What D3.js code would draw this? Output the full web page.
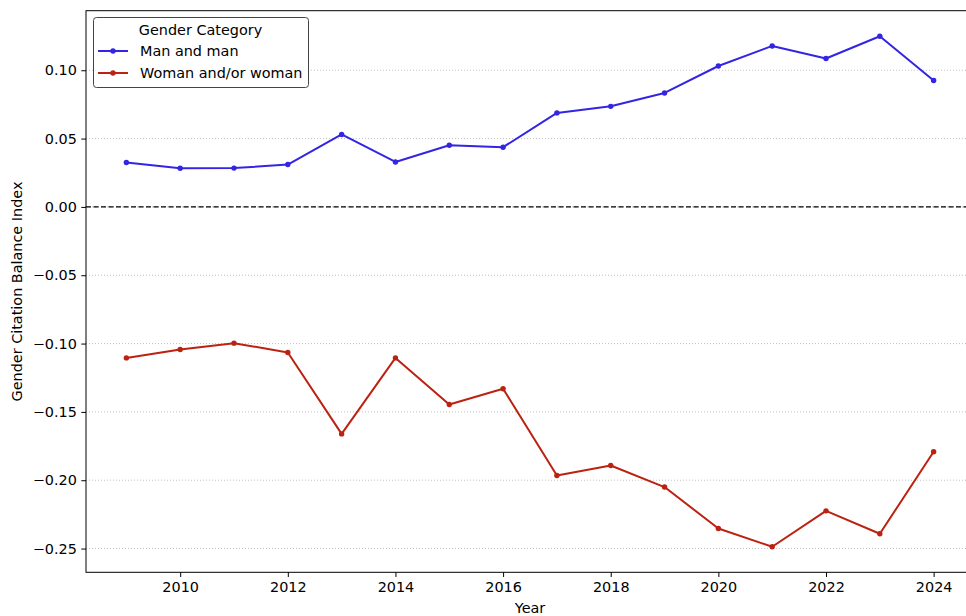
<!DOCTYPE html>
<html>
<head>
<meta charset="utf-8">
<script src="https://cdn.jsdelivr.net/npm/d3@7"></script>
<style>
  html, body { margin: 0; padding: 0; background: #fff; overflow: hidden; }
  svg { display: block; font-family: "DejaVu Sans", sans-serif; }
</style>
</head>
<body>
<svg id="chart" width="966" height="616"></svg>
<script>
// data
var years = [2009, 2010, 2011, 2012, 2013, 2014, 2015, 2016, 2017, 2018, 2019, 2020, 2021, 2022, 2023, 2024];
var manAndMan = [0.0325, 0.0283, 0.0284, 0.0310, 0.0530, 0.0329, 0.0451, 0.0437, 0.0688, 0.0736, 0.0834, 0.1031, 0.1178, 0.1086, 0.1249, 0.0925];
var womanOrWoman = [-0.1105, -0.1043, -0.0997, -0.1065, -0.1661, -0.1105, -0.1446, -0.1331, -0.1965, -0.1892, -0.2050, -0.2353, -0.2487, -0.2224, -0.2392, -0.1792];
var yTicks = [-0.25, -0.20, -0.15, -0.10, -0.05, 0.00, 0.05, 0.10];
var xTicks = [2010, 2012, 2014, 2016, 2018, 2020, 2022, 2024];
var seriesNames = ["Man and man", "Woman and/or woman"];
var seriesColors = ["#3325e3", "#bb2211"];

var svg = d3.select("#chart");
var fontSize = "14.4px";
// note: "top" is taken by window.top, so plot* names
var plotLeft = 86, plotRight = 974, plotTop = 10.7, plotBottom = 572.3;

// matplotlib style 5% margins
var allVals = manAndMan.concat(womanOrWoman);
var ymin = d3.min(allVals), ymax = d3.max(allVals);
var ypad = (ymax - ymin) * 0.05;
var x = d3.scaleLinear().domain([2008.25, 2024.75]).range([plotLeft, plotRight]);
var y = d3.scaleLinear().domain([ymin - ypad, ymax + ypad]).range([plotBottom, plotTop]);

// grid lines
svg.append("g").selectAll("line").data(yTicks).enter().append("line")
    .attr("x1", plotLeft).attr("x2", plotRight)
    .attr("y1", function(d){ return y(d); }).attr("y2", function(d){ return y(d); })
    .attr("stroke", "#b0b0b0").attr("stroke-width", 0.9)
    .attr("stroke-dasharray", "1,2").attr("opacity", 0.85);

// zero reference
svg.append("line")
    .attr("x1", plotLeft).attr("x2", plotRight)
    .attr("y1", y(0)).attr("y2", y(0))
    .attr("stroke", "#000").attr("stroke-width", 1.2)
    .attr("stroke-dasharray", "5,2.5");

// axes
var xAxis = svg.append("g").attr("transform", "translate(0," + plotBottom + ")")
    .call(d3.axisBottom(x).tickValues(xTicks).tickFormat(d3.format("d")).tickSizeOuter(0).tickSize(4.7).tickPadding(4.5));
var yAxis = svg.append("g").attr("transform", "translate(" + plotLeft + ",0)")
    .call(d3.axisLeft(y).tickValues(yTicks).tickFormat(function(d){ return d3.format(".2f")(d).replace("-", "\u2212"); }).tickSizeOuter(0).tickSize(4.7).tickPadding(4.5));
[xAxis, yAxis].forEach(function(a){
    a.selectAll("text").attr("font-size", fontSize).attr("fill", "#000")
        .attr("font-family", "DejaVu Sans, sans-serif");
    a.selectAll(".tick line").attr("stroke", "#000").attr("stroke-width", 1);
    a.select(".domain").remove();
});

// spines
svg.append("rect")
    .attr("x", plotLeft).attr("y", plotTop)
    .attr("width", plotRight - plotLeft).attr("height", plotBottom - plotTop)
    .attr("fill", "none").attr("stroke", "#000").attr("stroke-width", 1);

// series
var line = d3.line()
    .x(function(d, i){ return x(years[i]); })
    .y(function(d){ return y(d); });
[manAndMan, womanOrWoman].forEach(function(vals, k){
    svg.append("path").datum(vals)
        .attr("d", line).attr("fill", "none")
        .attr("stroke", seriesColors[k]).attr("stroke-width", 2)
        .attr("stroke-linejoin", "round");
    svg.append("g").selectAll("circle").data(vals).enter().append("circle")
        .attr("cx", function(d, i){ return x(years[i]); })
        .attr("cy", function(d){ return y(d); })
        .attr("r", 2.7).attr("fill", seriesColors[k]);
});

// axis labels
svg.append("text").attr("x", (plotLeft + plotRight) / 2).attr("y", 613)
    .attr("text-anchor", "middle").attr("font-size", fontSize).text("Year");
svg.append("text")
    .attr("transform", "translate(22," + ((plotTop + plotBottom) / 2) + ") rotate(-90)")
    .attr("text-anchor", "middle").attr("font-size", fontSize)
    .text("Gender Citation Balance Index");

// legend
var lg = svg.append("g");
lg.append("rect").attr("x", 93.5).attr("y", 17.5).attr("width", 215).attr("height", 70)
    .attr("rx", 3).attr("fill", "#fff").attr("fill-opacity", 0.8)
    .attr("stroke", "#444").attr("stroke-width", 1);
lg.append("text").attr("x", 200.5).attr("y", 34.5).attr("text-anchor", "middle")
    .attr("font-size", fontSize).text("Gender Category");
seriesNames.forEach(function(name, k){
    var ly = 51 + k * 22;
    lg.append("line").attr("x1", 98).attr("x2", 128).attr("y1", ly).attr("y2", ly)
        .attr("stroke", seriesColors[k]).attr("stroke-width", 2);
    lg.append("circle").attr("cx", 113).attr("cy", ly).attr("r", 2.7).attr("fill", seriesColors[k]);
    lg.append("text").attr("x", 140).attr("y", ly + 5.2)
        .attr("font-size", fontSize).text(name);
});
</script>
</body>
</html>
